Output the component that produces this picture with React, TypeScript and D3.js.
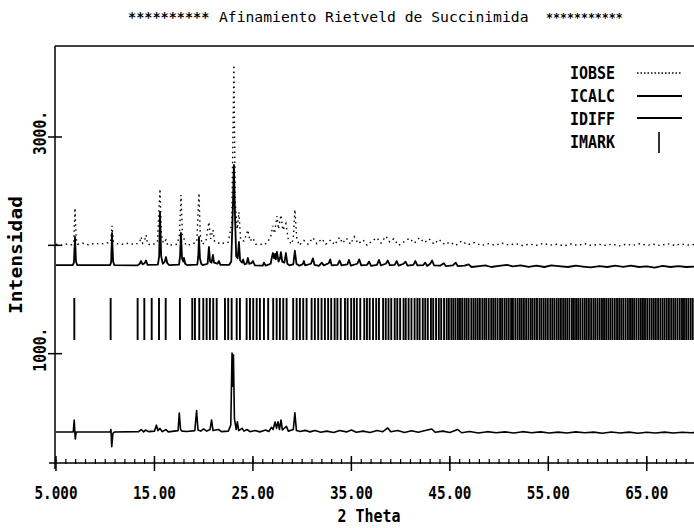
import React from "react";
import * as d3 from "d3";

// Observed intensity (2θ, counts)
const iobse: [number, number][] = [
  [5.0, 2010], [5.6, 2000], [6.2, 2015], [6.6, 2005], [6.8, 2030], [6.93, 2345], [7.05, 2060], [7.2, 2010],
  [7.7, 2020], [8.3, 2005], [8.9, 2018], [9.5, 2012], [10.1, 2020], [10.55, 2030], [10.69, 2181], [10.82, 2040],
  [11.2, 2015], [11.8, 2010], [12.4, 2020], [13.0, 2005], [13.5, 2030], [13.65, 2078], [13.8, 2020], [14.0, 2045],
  [14.15, 2095], [14.3, 2010], [14.8, 2005], [15.3, 2030], [15.56, 2520], [15.7, 2100], [15.9, 2020], [16.17, 2050],
  [16.35, 2000], [16.85, 2005], [17.3, 2010], [17.55, 2100], [17.69, 2465], [17.85, 2080], [18.0, 2060], [18.2, 2000],
  [18.7, 2008], [19.3, 2030], [19.52, 2483], [19.65, 2100], [19.85, 2010], [20.2, 2030], [20.53, 2215], [20.7, 2060],
  [20.94, 2142], [21.1, 2040], [21.5, 2020], [21.75, 2031], [22.0, 2020], [22.5, 2030], [22.85, 2200], [23.07, 3665],
  [23.2, 2400], [23.4, 2150], [23.58, 2308], [23.75, 2050], [24.1, 2040], [24.49, 2142], [24.7, 2040], [25.0, 2068],
  [25.3, 2010], [25.7, 2012], [26.12, 2003], [26.5, 2030], [26.8, 2080], [27.03, 2180], [27.2, 2110], [27.44, 2270],
  [27.6, 2150], [27.84, 2280], [28.05, 2140], [28.35, 2200], [28.6, 2050], [28.9, 2010], [29.1, 2060], [29.26, 2330],
  [29.45, 2070], [29.7, 2000], [30.18, 2045], [30.6, 2010], [31.09, 2070], [31.5, 2015], [32.0, 2060], [32.4, 2010],
  [32.9, 2050], [33.3, 2005], [33.8, 2075], [34.1, 2020], [34.5, 2065], [34.9, 2010], [35.3, 2080], [35.7, 2015],
  [36.2, 2050], [36.6, 2000], [37.1, 2040], [37.6, 2070], [38.0, 2020], [38.5, 2085], [38.9, 2030], [39.3, 2060],
  [39.8, 2000], [40.3, 2030], [40.9, 2065], [41.4, 2020], [41.9, 2070], [42.4, 2025], [42.9, 2060], [43.4, 2010],
  [43.9, 2055], [44.5, 2005], [45.0, 2030], [45.6, 2000], [46.2, 2040], [46.8, 2005], [47.5, 2025], [48.2, 1998],
  [48.9, 2015], [49.6, 2000], [50.3, 2020], [51.0, 2003], [51.7, 2015], [52.4, 1998], [53.1, 2012], [53.8, 2000],
  [54.5, 2018], [55.2, 2002], [55.9, 2010], [56.6, 1995], [57.3, 2012], [58.0, 2000], [58.7, 2015], [59.4, 1998],
  [60.1, 2010], [60.8, 2000], [61.5, 2012], [62.2, 1995], [62.9, 2010], [63.6, 2000], [64.3, 2015], [65.0, 2000],
  [65.7, 2010], [66.4, 1998], [67.1, 2015], [67.8, 2000], [68.5, 2012], [69.2, 2003], [70.0, 2010],
];

// Calculated intensity (2θ, counts)
const icalc: [number, number][] = [
  [5.0, 1818], [6.7, 1818], [6.82, 1840], [6.93, 2077], [7.03, 1850], [7.15, 1818], [10.5, 1818], [10.6, 1845],
  [10.69, 2114], [10.8, 1850], [10.92, 1818], [13.3, 1815], [13.5, 1830], [13.63, 1855], [13.8, 1825], [14.0, 1835],
  [14.14, 1860], [14.3, 1820], [15.35, 1822], [15.48, 1900], [15.56, 2308], [15.68, 1900], [15.85, 1830], [16.05, 1850],
  [16.17, 1892], [16.3, 1835], [16.5, 1818], [17.5, 1822], [17.6, 1900], [17.69, 2114], [17.8, 1880], [17.93, 1850],
  [18.0, 1883], [18.12, 1830], [18.3, 1818], [19.35, 1822], [19.45, 1900], [19.52, 2077], [19.62, 1880], [19.75, 1830],
  [19.9, 1818], [20.4, 1830], [20.53, 1985], [20.65, 1850], [20.8, 1840], [20.94, 1911], [21.05, 1840], [21.4, 1830],
  [21.55, 1855], [21.7, 1820], [22.6, 1820], [22.8, 1850], [22.95, 2300], [23.07, 2742], [23.17, 2300], [23.3, 1900],
  [23.45, 1880], [23.58, 2031], [23.7, 1860], [23.9, 1840], [24.0, 1870], [24.15, 1825], [24.35, 1830], [24.49, 1883],
  [24.62, 1830], [24.85, 1835], [25.0, 1855], [25.2, 1815], [26.0, 1812], [26.12, 1840], [26.3, 1812], [26.8, 1830],
  [26.95, 1900], [27.03, 1929], [27.15, 1880], [27.25, 1920], [27.33, 1870], [27.44, 1940], [27.6, 1850], [27.75, 1880],
  [27.84, 1938], [27.98, 1850], [28.2, 1840], [28.35, 1929], [28.5, 1830], [28.7, 1815], [29.1, 1825], [29.26, 1950],
  [29.42, 1830], [29.7, 1812], [30.05, 1825], [30.18, 1855], [30.3, 1815], [30.9, 1830], [31.09, 1880], [31.25, 1820],
  [31.7, 1810], [32.0, 1840], [32.2, 1815], [32.7, 1835], [32.85, 1870], [33.0, 1815], [33.6, 1820], [33.8, 1860],
  [34.0, 1815], [34.6, 1825], [34.75, 1865], [34.95, 1812], [35.6, 1830], [35.8, 1870], [36.0, 1815], [36.6, 1820],
  [36.8, 1850], [37.0, 1810], [37.6, 1820], [37.8, 1865], [38.0, 1815], [38.5, 1830], [38.7, 1860], [38.9, 1818],
  [39.4, 1820], [39.6, 1855], [39.8, 1812], [40.3, 1830], [40.5, 1850], [40.7, 1812], [41.3, 1820], [41.5, 1855],
  [41.7, 1815], [42.3, 1818], [42.5, 1840], [42.7, 1810], [43.0, 1830], [43.2, 1860], [43.4, 1815], [44.0, 1812],
  [44.4, 1835], [44.6, 1808], [45.3, 1815], [45.6, 1840], [45.8, 1808], [46.5, 1812], [46.9, 1825], [47.2, 1800],
  [48.0, 1808], [48.6, 1815], [49.2, 1800], [50.0, 1810], [50.8, 1820], [51.4, 1805], [52.2, 1815], [53.0, 1802],
  [53.8, 1812], [54.6, 1800], [55.3, 1815], [56.0, 1808], [57.0, 1800], [57.8, 1812], [58.5, 1804], [59.3, 1796],
  [60.2, 1808], [61.0, 1800], [61.8, 1812], [62.6, 1802], [63.4, 1812], [64.2, 1800], [65.0, 1806], [65.8, 1795],
  [66.6, 1810], [67.4, 1800], [68.2, 1808], [69.0, 1800], [70.0, 1805],
];

// Difference curve (2θ, counts), plotted with an offset
const idiff: [number, number][] = [
  [5.0, 277], [6.75, 277], [6.85, 388], [6.9, 300], [6.96, 212], [7.05, 277], [10.5, 277], [10.58, 300],
  [10.66, 141], [10.78, 265], [10.95, 277], [13.4, 280], [13.65, 300], [13.9, 278], [14.1, 295], [14.4, 280],
  [15.0, 285], [15.2, 340], [15.35, 290], [15.56, 310], [15.8, 280], [16.17, 300], [16.4, 278], [17.4, 290],
  [17.52, 452], [17.65, 300], [17.8, 285], [18.3, 282], [19.1, 290], [19.28, 474], [19.42, 295], [19.7, 285],
  [20.0, 305], [20.3, 285], [20.65, 300], [20.8, 388], [20.95, 290], [21.5, 300], [21.8, 280], [22.5, 285],
  [22.75, 340], [22.88, 1006], [22.95, 700], [23.02, 990], [23.12, 400], [23.3, 300], [23.42, 372], [23.55, 290],
  [23.9, 310], [24.1, 285], [24.4, 300], [24.7, 280], [25.2, 290], [25.7, 278], [26.3, 295], [26.6, 282],
  [26.9, 320], [27.05, 300], [27.25, 369], [27.4, 310], [27.55, 372], [27.7, 300], [27.85, 388], [28.0, 295],
  [28.4, 330], [28.6, 285], [29.1, 300], [29.26, 455], [29.42, 290], [29.8, 282], [30.3, 292], [30.8, 278],
  [31.3, 290], [31.9, 275], [32.5, 285], [33.2, 272], [33.8, 290], [34.5, 278], [35.0, 295], [35.5, 275],
  [36.2, 285], [36.9, 272], [37.6, 290], [38.2, 280], [38.7, 314], [39.0, 280], [39.7, 290], [40.4, 272],
  [41.1, 288], [41.8, 275], [42.5, 290], [43.17, 305], [43.5, 275], [44.3, 285], [45.0, 272], [45.8, 300],
  [46.2, 270], [47.0, 282], [47.9, 268], [48.8, 280], [49.7, 270], [50.6, 278], [51.5, 268], [52.4, 280],
  [53.3, 270], [54.2, 278], [55.1, 268], [56.0, 276], [56.9, 268], [57.8, 278], [58.7, 270], [59.6, 276],
  [60.5, 266], [61.4, 277], [62.3, 268], [63.2, 276], [64.1, 266], [65.0, 275], [65.9, 268], [66.8, 276],
  [67.7, 268], [68.6, 275], [69.5, 270], [70.0, 272],
];

// Bragg reflection positions (2θ)
const imark: number[] = [
  6.86, 10.55, 13.29, 13.97, 14.72, 15.46, 16.14, 17.59, 18.84, 19.11, 19.55, 19.96, 20.30, 20.63, 20.97, 21.32,
  22.16, 22.49, 22.84, 23.35, 23.68, 24.36, 24.70, 25.03, 25.38, 25.71, 26.12, 26.55, 27.06, 27.41, 27.74, 28.08,
  28.42, 29.09, 29.44, 29.77, 30.11, 30.45, 30.96, 31.29, 31.63, 31.97, 32.31, 32.64, 32.95, 33.30, 33.58, 33.92,
  34.35, 34.62, 34.98, 35.27, 35.55, 35.90, 36.31, 36.58, 36.86, 37.20, 37.52, 37.80, 38.22, 38.49, 38.77, 39.05,
  39.40, 39.66, 39.95, 40.30, 40.52, 40.81, 41.10, 41.42, 41.70, 41.93, 42.25, 42.50, 42.76, 43.08, 43.31, 43.60,
  43.88, 44.12, 44.41, 44.68, 44.90, 45.15, 45.36, 45.58, 45.82, 46.03, 46.25, 46.49, 46.70, 46.91, 47.18, 47.40,
  47.61, 47.83, 48.05, 48.30, 48.52, 48.71, 48.95, 49.20, 49.41, 49.62, 49.85, 50.10, 50.31, 50.55, 50.76, 50.98,
  51.22, 51.41, 51.65, 51.88, 52.10, 52.30, 52.52, 52.75, 52.98, 53.21, 53.40, 53.62, 53.85, 54.10, 54.30, 54.52,
  54.73, 54.95, 55.20, 55.41, 55.62, 55.85, 56.06, 56.28, 56.51, 56.72, 56.93, 57.15, 57.40, 57.60, 57.82, 58.03,
  58.25, 58.48, 58.70, 58.90, 59.12, 59.35, 59.58, 59.78, 60.00, 60.22, 60.45, 60.66, 60.88, 61.10, 61.31, 61.52,
  61.75, 61.98, 62.20, 62.41, 62.62, 62.85, 63.08, 63.30, 63.51, 63.72, 63.95, 64.18, 64.40, 64.61, 64.82, 65.05,
  65.28, 65.50, 65.71, 65.92, 66.15, 66.38, 66.60, 66.81, 67.03, 67.25, 67.48, 67.70, 67.90, 68.12, 68.35, 68.58,
  68.78, 69.00, 69.22, 69.45, 69.66, 69.88,
];

const xMajorTicks = [5, 15, 25, 35, 45, 55, 65];
const xTickLabels = ["5.000", "15.00", "25.00", "35.00", "45.00", "55.00", "65.00"];
const yTicks = [1000, 2000, 3000];
const yTickLabels = ["1000.", "", "3000."];
const legendItems = ["IOBSE", "ICALC", "IDIFF", "IMARK"];

const W = 694;
const H = 528;
const FONT = "'DejaVu Sans Mono', monospace";

export default function App() {
  const x = d3.scaleLinear().domain([5, 70]).range([56, 696]);
  const y = d3.scaleLinear().domain([0, 3840]).range([462, 46]);
  const line = d3
    .line<[number, number]>()
    .x((d) => x(d[0]))
    .y((d) => y(d[1]));

  const left = x(5) - 1;
  const axisY = y(0) + 1;
  const minorTicks = d3.range(5, 70, 1);
  const markTop = 1514;
  const markBottom = 1126;

  return (
    <svg
      width={W}
      height={H}
      style={{ position: "absolute", left: 0, top: 0, background: "#fff" }}
      fontFamily={FONT}
    >
      <rect x={0} y={0} width={W} height={H} fill="#fff" />
      {/* title */}
      <text x={128} y={22} fontSize={13.5} fontWeight="bold">
        **********
      </text>
      <text x={219} y={22} fontSize={14.7}>
        Afinamiento Rietveld de Succinimida
      </text>
      <text x={546} y={22} fontSize={11.6} fontWeight="bold">
        ***********
      </text>

      {/* frame */}
      <line x1={left} x2={W} y1={46} y2={46} stroke="#000" strokeWidth={1.5} />
      <line x1={left} x2={left} y1={46} y2={axisY + 6} stroke="#000" strokeWidth={1.5} />
      <line x1={left - 6} x2={W} y1={axisY} y2={axisY} stroke="#000" strokeWidth={1.5} />

      {/* x ticks */}
      {minorTicks.map((t) => (
        <line key={"m" + t} x1={x(t)} x2={x(t)} y1={axisY - 4} y2={axisY + 1} stroke="#000" strokeWidth={1.2} />
      ))}
      {xMajorTicks.map((t, i) => (
        <g key={"M" + t}>
          <line x1={x(t)} x2={x(t)} y1={axisY - 7} y2={axisY + 8} stroke="#000" strokeWidth={1.5} />
          <text
            x={x(t)}
            y={499}
            fontSize={17}
            fontWeight="bold"
            textAnchor="middle"
            textLength={43}
            lengthAdjust="spacingAndGlyphs"
          >
            {xTickLabels[i]}
          </text>
        </g>
      ))}
      <text x={369} y={522} fontSize={17} fontWeight="bold" textAnchor="middle" textLength={63} lengthAdjust="spacingAndGlyphs">
        2 Theta
      </text>

      {/* y ticks */}
      {yTicks.map((t, i) => (
        <g key={"y" + t}>
          <line x1={left - 7} x2={left + 7} y1={y(t)} y2={y(t)} stroke="#000" strokeWidth={1.5} />
          {yTickLabels[i] && (
            <text
              transform={`translate(46,${y(t) - 4}) rotate(-90)`}
              fontSize={17}
              fontWeight="bold"
              textAnchor="middle"
              textLength={44}
              lengthAdjust="spacingAndGlyphs"
            >
              {yTickLabels[i]}
            </text>
          )}
        </g>
      ))}
      <text
        transform={`translate(22,255) rotate(-90)`}
        fontSize={17}
        fontWeight="bold"
        textAnchor="middle"
        textLength={118}
        lengthAdjust="spacingAndGlyphs"
      >
        Intensidad
      </text>

      {/* reflection markers */}
      {imark.map((r, i) => (
        <line key={"k" + i} x1={x(r)} x2={x(r)} y1={y(markTop)} y2={y(markBottom)} stroke="#000" strokeWidth={1.9} />
      ))}

      {/* profiles */}
      <path d={line(iobse) || ""} fill="none" stroke="#000" strokeWidth={1.4} strokeDasharray="1.5 3.5" />
      <path d={line(icalc) || ""} fill="none" stroke="#000" strokeWidth={1.8} strokeLinejoin="round" />
      <path d={line(idiff) || ""} fill="none" stroke="#000" strokeWidth={1.6} strokeLinejoin="round" />

      {/* legend */}
      {legendItems.map((name, i) => (
        <text key={name} x={570} y={79 + i * 23} fontSize={17} fontWeight="bold" textLength={45} lengthAdjust="spacingAndGlyphs">
          {name}
        </text>
      ))}
      <line x1={637} x2={682} y1={73} y2={73} stroke="#000" strokeWidth={1.4} strokeDasharray="1.5 2" />
      <line x1={637} x2={682} y1={96} y2={96} stroke="#000" strokeWidth={1.8} />
      <line x1={637} x2={682} y1={118} y2={118} stroke="#000" strokeWidth={1.8} />
      <line x1={659} x2={659} y1={132} y2={153} stroke="#000" strokeWidth={1.6} />
    </svg>
  );
}
